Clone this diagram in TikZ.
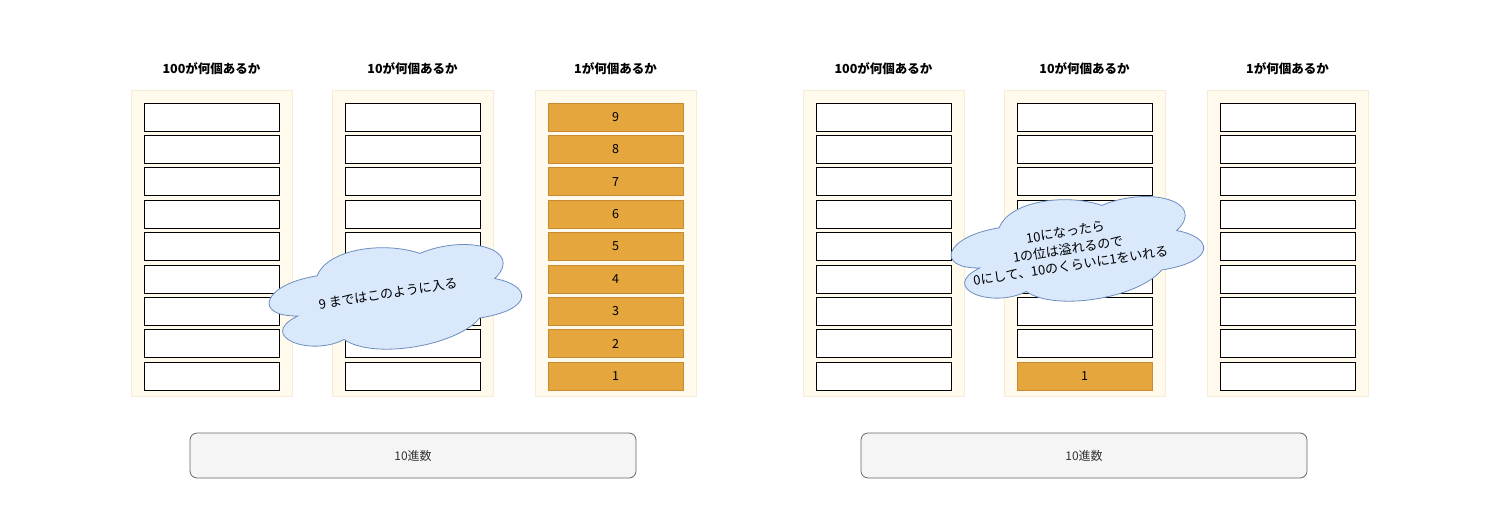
\documentclass[tikz,border=0pt]{standalone}
\usepackage{fontspec}
\newfontfamily\jp{Noto Sans CJK JP}
\definecolor{bgfill}{RGB}{255,250,235}
\definecolor{bgline}{RGB}{244,236,212}
\definecolor{ofill}{RGB}{228,166,61}
\definecolor{oline}{RGB}{200,138,50}
\definecolor{cfill}{HTML}{DAE8FC}
\definecolor{cline}{HTML}{6C8EBF}
\definecolor{gfill}{HTML}{F5F5F5}
\definecolor{gline}{HTML}{666666}
\definecolor{gtext}{HTML}{333333}
\tikzset{
  colbg/.style={draw=bgline, fill=bgfill, line width=1pt, minimum width=161pt, minimum height=306pt, anchor=north west, inner sep=0pt},
  cell/.style={draw=black, fill=white, line width=0.9pt, minimum width=135pt, minimum height=28pt, inner sep=0pt, font=\jp\fontsize{12.5}{14}\selectfont},
  ocell/.style={cell, draw=oline, fill=ofill},
  head/.style={font=\jp\bfseries\fontsize{12.5}{15}\selectfont, inner sep=0pt},
  basebox/.style={draw=gline, fill=gfill, line width=0.8pt, rounded corners=7pt, minimum width=446pt, minimum height=45pt, inner sep=0pt, text=gtext, font=\jp\fontsize{12}{14}\selectfont},
  cloudst/.style={draw=cline, fill=cfill, line width=0.8pt},
  cloudtxt/.style={font=\jp\fontsize{13}{17}\selectfont, align=center, inner sep=0pt, rotate=9}
}
\newcommand\mxcloud[4]{% cx, cy, w, h
  \begin{scope}[shift={(#1,#2)}, rotate=9, xscale=#3, yscale=#4, shift={(-0.5,-0.5)}]
    \draw[cloudst] (0.25,0.25) .. controls (0.05,0.25) and (0,0.5) .. (0.16,0.55)
      .. controls (0,0.66) and (0.18,0.9) .. (0.31,0.8)
      .. controls (0.4,1) and (0.7,1) .. (0.8,0.8)
      .. controls (1,0.8) and (1,0.6) .. (0.875,0.5)
      .. controls (1,0.3) and (0.8,0.1) .. (0.625,0.2)
      .. controls (0.5,0.05) and (0.3,0.05) .. (0.25,0.25) -- cycle;
  \end{scope}}
\begin{document}
\begin{tikzpicture}[x=1pt,y=-1pt]
\useasboundingbox (0,0) rectangle (1490,522);
% columns
\foreach \n/\x/\h in {A/131/100, B/332/10, C/535/1, D/803/100, E/1004/10, F/1207/1}{
  \node[colbg] (\n bg) at (\x,90) {};
  \node[head] (\n head) at (\x+80.5,69) {\h が何個あるか};
}
% white cells
\foreach \n/\x in {A/131, B/332, D/803, F/1207}{
  \foreach \i in {0,...,8}{
    \node[cell] (\n c\i) at (\x+80.5,117+\i*32.4) {};
  }
}
\foreach \i in {0,...,7}{
  \node[cell] (Ec\i) at (1084.5,117+\i*32.4) {};
}
\node[ocell] (Ec8) at (1084.5,117+8*32.4) {1};
% orange cells 9..1
\foreach \i in {0,...,8}{
  \pgfmathtruncatemacro\v{9-\i}
  \node[ocell] (Cc\i) at (615.5,117+\i*32.4) {\v};
}
% clouds
\mxcloud{391}{295}{280}{122}
\node[cloudtxt] (t1) at (388,294) {9 まではこのように入る};
\mxcloud{1073}{247}{280}{122}
\node[cloudtxt] (t2) at (1068,249) {10になったら\\1の位は溢れるので\\0にして、10のくらいに1をいれる};
% base boxes
\node[basebox] (base1) at (413,455.5) {10進数};
\node[basebox] (base2) at (1084,455.5) {10進数};
\end{tikzpicture}
\end{document}
